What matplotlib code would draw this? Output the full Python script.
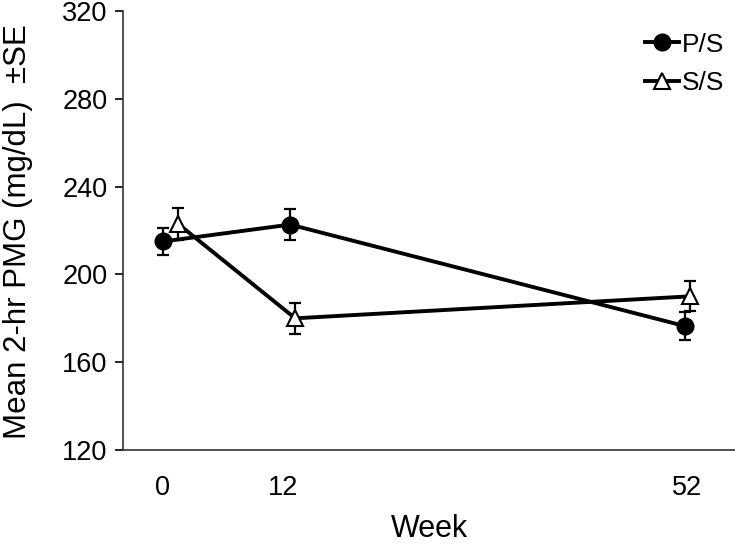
import numpy as np
import matplotlib.pyplot as plt

plt.rcParams['font.family'] = ['Liberation Sans', 'DejaVu Sans']

#==============================
#            DATA
#==============================
weeks = [0, 12, 52]
week_labels = ["0", "12", "52"]
# plotted x (slight horizontal offset between groups, as in the original)
x_ps = [0.1, 12.7, 51.8]
x_ss = [1.6, 13.2, 52.3]
ps_mean = [215.0, 222.7, 176.5]
ps_se = [6.2, 7.0, 6.5]
ss_mean = [223.0, 180.0, 190.0]
ss_se = [7.3, 7.0, 6.8]

#==============================
#            PLOT
#==============================
fig = plt.figure(figsize=(7.35, 5.45), dpi=100)
ax = fig.add_axes([0.1673, 0.1743, 0.8327, 0.8055])

ax.errorbar(x_ps, ps_mean, yerr=ps_se, fmt='none', ecolor='k',
            elinewidth=1.6, capsize=4.5, capthick=1.6, zorder=2)
ax.errorbar(x_ss, ss_mean, yerr=ss_se, fmt='none', ecolor='k',
            elinewidth=1.6, capsize=4.5, capthick=1.6, zorder=2)
ax.plot(x_ps, ps_mean, '-o', color='k', lw=2.8, ms=12,
        mfc='k', mec='k', label='P/S', zorder=3)
ax.plot(x_ss, ss_mean, '-^', color='k', lw=2.8, ms=12,
        mfc='white', mec='k', mew=1.5, label='S/S', zorder=4)

ax.set_xlim(-3.87, 56.8)
ax.set_ylim(120, 320)
ax.set_yticks(np.arange(120, 321, 40))
ax.set_xticks(weeks)
ax.set_xticklabels(week_labels)
ax.tick_params(axis='y', direction='out', length=6, width=1.2,
               labelsize=19.5, pad=5)
ax.tick_params(axis='x', length=0, labelsize=19.5, pad=18)
for s in ['top', 'right']:
    ax.spines[s].set_visible(False)
for s in ['left', 'bottom']:
    ax.spines[s].set_linewidth(1.2)
    ax.spines[s].set_color('#333333')

ax.set_xlabel("Week", fontsize=22, labelpad=9)
fig.text(0.025, 0.5755, "Mean 2-hr PMG (mg/dL)  \u00b1SE", rotation=90,
         fontsize=22.5, ha='center', va='center')

ax.legend(loc='upper right', bbox_to_anchor=(0.985, 0.94),
          bbox_transform=fig.transFigure, frameon=False, fontsize=19,
          handlelength=1.3, handletextpad=0.1, labelspacing=0.55,
          borderpad=0, borderaxespad=0)

fig.savefig("out.png", dpi=100)
